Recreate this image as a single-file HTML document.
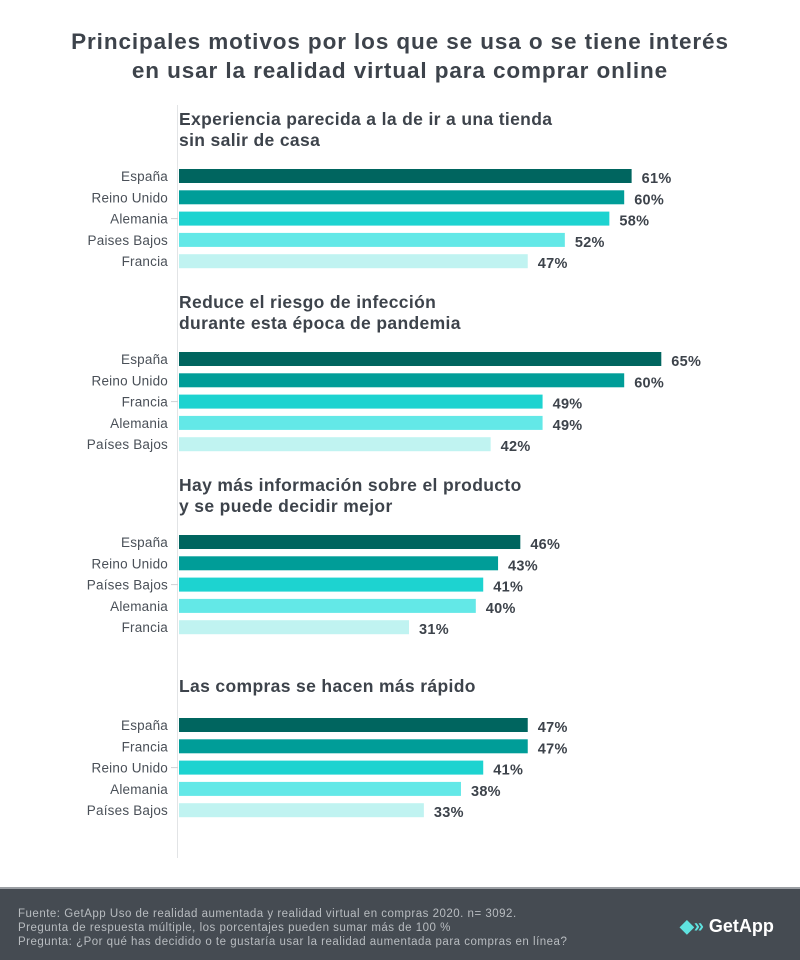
<!DOCTYPE html>
<html><head><meta charset="utf-8">
<style>
body{margin:0;width:800px;height:960px;background:#fff;font-family:"Liberation Sans",sans-serif;overflow:hidden;position:relative}
#title{position:absolute;top:27px;left:0;width:800px;text-align:center;font-weight:bold;font-size:22.5px;letter-spacing:0.9px;line-height:29px;color:#3d434b}
#footer{position:absolute;top:887px;left:0;width:800px;height:73px;background:#454b52;border-top:2px solid #9a9ea3;box-sizing:border-box}
#ftext{position:absolute;left:18px;top:18px;font-size:11.5px;line-height:14px;color:#b8bcc0;letter-spacing:0.5px}
#logo{position:absolute;left:680px;top:27px;color:#fff;font-size:18px;font-weight:bold}
</style></head><body>
<div id="title">Principales motivos por los que se usa o se tiene interés<br>en usar la realidad virtual para comprar online</div>
<svg id="chart" width="800" height="880" style="position:absolute;left:0;top:0"></svg>
<div id="footer">
<div id="ftext">Fuente: GetApp Uso de realidad aumentada y realidad virtual en compras 2020. n= 3092.<br>Pregunta de respuesta múltiple, los porcentajes pueden sumar más de 100 %<br>Pregunta: ¿Por qué has decidido o te gustaría usar la realidad aumentada para compras en línea?</div>
<div id="logo"><span style="color:#5fe3e0">◆»</span> GetApp</div>
</div>
<script>
const groupTitles=[["Experiencia parecida a la de ir a una tienda","sin salir de casa"],["Reduce el riesgo de infección","durante esta época de pandemia"],["Hay más información sobre el producto","y se puede decidir mejor"],["Las compras se hacen más rápido"]];
const cats1=["España","Reino Unido","Alemania","Paises Bajos","Francia"];
const vals1=[61,60,58,52,47];
const cats2=["España","Reino Unido","Francia","Alemania","Países Bajos"];
const vals2=[65,60,49,49,42];
const cats3=["España","Reino Unido","Países Bajos","Alemania","Francia"];
const vals3=[46,43,41,40,31];
const cats4=["España","Francia","Reino Unido","Alemania","Países Bajos"];
const vals4=[47,47,41,38,33];
const cats=[cats1,cats2,cats3,cats4], vals=[vals1,vals2,vals3,vals4];
const colors=["#00655f","#009d98","#1dd3d0","#63e8e7","#c0f3f1"];
const svg=document.getElementById('chart'),NS="http://www.w3.org/2000/svg";
const x0=179,scale=7.42;
const xS=v=>x0+v*scale;
const groupTop=[169,352,535,718];
function mk(t,a){const e=document.createElementNS(NS,t);for(const k in a)e.setAttribute(k,a[k]);svg.appendChild(e);return e;}
const ax=mk('line',{x1:177.5,y1:105,x2:177.5,y2:858,stroke:'#e2e4e6','stroke-width':1});


for(let g=0;g<4;g++){
  const t=groupTitles[g];
  const ty=t.length>1?groupTop[g]-44:groupTop[g]-26;
  t.forEach((ln,i)=>{const e=mk('text',{x:179,y:ty+i*21,'font-size':17.5,'letter-spacing':0.35,'font-weight':'bold',fill:'#3d434b'});e.textContent=ln;
    
    });
  const tk=mk('line',{x1:171,y1:groupTop[g]+2*21.3+7,x2:178,y2:groupTop[g]+2*21.3+7,stroke:'#cfd2d5'});
  
  
  cats[g].forEach((c,i)=>{
    const y=groupTop[g]+i*21.3, v=vals[g][i];
    const r=mk('rect',{x:x0,y:y,width:xS(v)-x0,height:14,fill:colors[i]});
    
    
    const l=mk('text',{x:168,y:y+12,'font-size':13.5,'letter-spacing':0.2,fill:'#4a5058','text-anchor':'end'});l.textContent=c;
    
    
    const vl=mk('text',{x:xS(v)+10,y:y+14,'font-size':14.5,'letter-spacing':0.3,'font-weight':'bold',fill:'#3d434b'});vl.textContent=v+'%';
    
    
  });
}
</script>
</body></html>
